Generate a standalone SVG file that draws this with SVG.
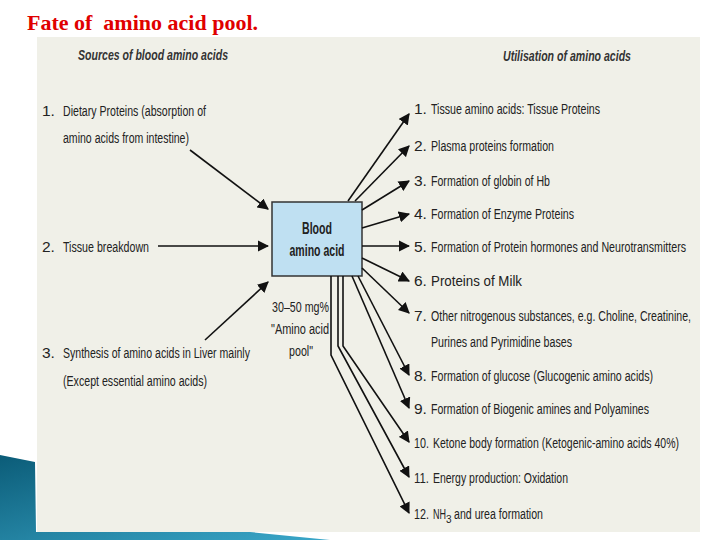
<svg xmlns="http://www.w3.org/2000/svg" width="720" height="540" viewBox="0 0 720 540">
<defs>
<marker id="ah" viewBox="0 0 10 10" refX="9" refY="5" markerWidth="7" markerHeight="7" orient="auto"><path d="M0,0 L10,5 L0,10 z" fill="#111"/></marker>
<linearGradient id="bl" x1="0" y1="0" x2="1" y2="1"><stop offset="0" stop-color="#0b5c78"/><stop offset="1" stop-color="#3aa7c9"/></linearGradient>
</defs>
<style>
text{font-family:"Liberation Sans",sans-serif}
.t{font-size:15.5px;fill:#222}
.h{font-size:15px;font-weight:bold;font-style:italic;fill:#333}
.c line,.c polyline{stroke:#111;stroke-width:1.6;fill:none;marker-end:url(#ah)}
</style>
<rect width="720" height="540" fill="#fff"/>
<polygon points="0,455 35,462 36,532 250,532 330,540 0,540" fill="url(#bl)"/>
<rect x="37" y="37" width="663" height="495" fill="#f0f0e8"/>
<text x="27" y="30" style="font-family:'Liberation Serif',serif" font-size="22" font-weight="bold" fill="#e00000" xml:space="preserve">Fate of  amino acid pool.</text>
<text class="h" x="78" y="60" textLength="150" lengthAdjust="spacingAndGlyphs">Sources of blood amino acids</text>
<text class="h" x="503" y="61" textLength="128" lengthAdjust="spacingAndGlyphs">Utilisation of amino acids</text>
<g id="src1"><text class="t" x="42" y="116">1.</text><text class="t" x="63" y="116" textLength="143" lengthAdjust="spacingAndGlyphs">Dietary Proteins (absorption of</text><text class="t" x="63" y="143" textLength="126" lengthAdjust="spacingAndGlyphs">amino acids from intestine)</text></g>
<g id="src2"><text class="t" x="42" y="252">2.</text><text class="t" x="63" y="252" textLength="86" lengthAdjust="spacingAndGlyphs">Tissue breakdown</text></g>
<g id="src3"><text class="t" x="42" y="358">3.</text><text class="t" x="63" y="358" textLength="187" lengthAdjust="spacingAndGlyphs">Synthesis of amino acids in Liver mainly</text><text class="t" x="63" y="386" textLength="144" lengthAdjust="spacingAndGlyphs">(Except essential amino acids)</text></g>
<g id="blood"><rect x="272" y="202" width="90" height="74" fill="#bfe0f2" stroke="#333" stroke-width="1.5"/>
<text x="317" y="234" text-anchor="middle" font-size="16" font-weight="bold" fill="#222" textLength="30" lengthAdjust="spacingAndGlyphs">Blood</text>
<text x="317" y="256" text-anchor="middle" font-size="16" font-weight="bold" fill="#222" textLength="55" lengthAdjust="spacingAndGlyphs">amino acid</text></g>
<g id="pool"><text class="t" x="272" y="312" font-size="14" textLength="57" lengthAdjust="spacingAndGlyphs">30–50 mg%</text><text class="t" x="271" y="334" font-size="14" textLength="58" lengthAdjust="spacingAndGlyphs">"Amino acid</text><text class="t" x="289" y="356" font-size="14" textLength="24" lengthAdjust="spacingAndGlyphs">pool"</text></g>
<g id="uses">
<text class="t" x="414" y="114">1.</text><text class="t" x="431" y="114" textLength="169" lengthAdjust="spacingAndGlyphs">Tissue amino acids: Tissue Proteins</text>
<text class="t" x="414" y="151">2.</text><text class="t" x="431" y="151" textLength="123" lengthAdjust="spacingAndGlyphs">Plasma proteins formation</text>
<text class="t" x="414" y="186">3.</text><text class="t" x="431" y="186" textLength="119" lengthAdjust="spacingAndGlyphs">Formation of globin of Hb</text>
<text class="t" x="414" y="219">4.</text><text class="t" x="431" y="219" textLength="143" lengthAdjust="spacingAndGlyphs">Formation of Enzyme Proteins</text>
<text class="t" x="414" y="252">5.</text><text class="t" x="431" y="252" textLength="255" lengthAdjust="spacingAndGlyphs">Formation of Protein hormones and Neurotransmitters</text>
<text class="t" x="414" y="286">6.</text><text class="t" x="431" y="286" textLength="91" lengthAdjust="spacingAndGlyphs">Proteins of Milk</text>
<text class="t" x="414" y="321">7.</text><text class="t" x="431" y="321" textLength="260" lengthAdjust="spacingAndGlyphs">Other nitrogenous substances, e.g. Choline, Creatinine,</text>
<text class="t" x="431" y="347" textLength="141" lengthAdjust="spacingAndGlyphs">Purines and Pyrimidine bases</text>
<text class="t" x="414" y="381">8.</text><text class="t" x="431" y="381" textLength="222" lengthAdjust="spacingAndGlyphs">Formation of glucose (Glucogenic amino acids)</text>
<text class="t" x="414" y="414">9.</text><text class="t" x="431" y="414" textLength="218" lengthAdjust="spacingAndGlyphs">Formation of Biogenic amines and Polyamines</text>
<text class="t" x="414" y="448" textLength="15" lengthAdjust="spacingAndGlyphs">10.</text><text class="t" x="433" y="448" textLength="246" lengthAdjust="spacingAndGlyphs">Ketone body formation (Ketogenic-amino acids 40%)</text>
<text class="t" x="414" y="483" textLength="15" lengthAdjust="spacingAndGlyphs">11.</text><text class="t" x="433" y="483" textLength="135" lengthAdjust="spacingAndGlyphs">Energy production: Oxidation</text>
<text class="t" x="414" y="519" textLength="15" lengthAdjust="spacingAndGlyphs">12.</text><text class="t" x="433" y="519" textLength="13" lengthAdjust="spacingAndGlyphs">NH</text><text x="446" y="523" font-size="10" fill="#222">3</text><text class="t" x="454" y="519" textLength="89" lengthAdjust="spacingAndGlyphs">and urea formation</text>
</g>
<g id="connectors" class="c">
<line x1="190" y1="150" x2="268" y2="209"/>
<line x1="158" y1="246" x2="268" y2="246"/>
<line x1="205" y1="340" x2="268" y2="282"/>
<line x1="348" y1="201" x2="409" y2="114"/>
<line x1="355" y1="201" x2="409" y2="146"/>
<line x1="362" y1="210" x2="409" y2="181"/>
<line x1="362" y1="228" x2="409" y2="214"/>
<line x1="362" y1="246" x2="409" y2="246"/>
<line x1="362" y1="258" x2="409" y2="281"/>
<line x1="362" y1="268" x2="409" y2="313"/>
<line x1="358" y1="276" x2="409" y2="375"/>
<line x1="352" y1="276" x2="409" y2="408"/>
<polyline points="343,276 343,346 409,442"/>
<polyline points="338,276 338,346 409,477"/>
<polyline points="331,276 331,355 409,513"/>
</g>
</svg>
